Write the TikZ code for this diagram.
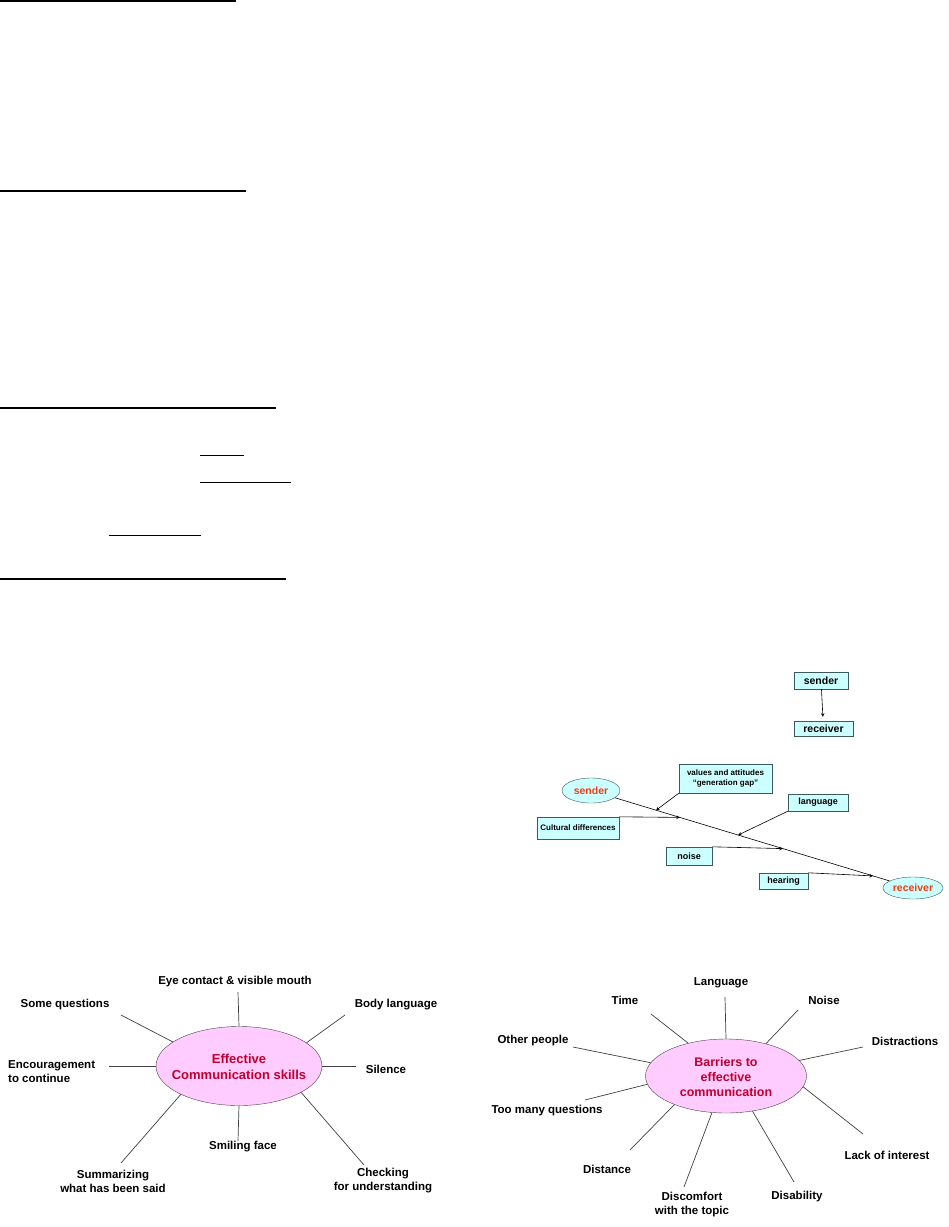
\documentclass[tikz,border=0pt]{standalone}
\usepackage{fontspec}
\setmainfont{Liberation Sans}
\usetikzlibrary{shapes.geometric}
\definecolor{boxcyan}{HTML}{CCFFFF}
\definecolor{boxline}{HTML}{3C5A5A}
\definecolor{hubpink}{HTML}{FFCCFF}
\definecolor{hubline}{HTML}{503C50}
\definecolor{hubred}{HTML}{C0002E}
\definecolor{sndred}{HTML}{F03C14}
\definecolor{spokegray}{HTML}{404040}
\tikzset{
  cbox/.style={draw=boxline, fill=boxcyan, inner sep=0pt, align=center,
    font=\bfseries\fontsize{9}{10}\selectfont},
  bigtxt/.style={font=\bfseries\fontsize{10.5}{12}\selectfont},
  smalltxt/.style={font=\bfseries\fontsize{8}{9.5}\selectfont},
  cell/.style={ellipse, draw=boxline, fill=boxcyan, inner sep=0pt, text=sndred,
    font=\bfseries\fontsize{10.5}{12}\selectfont},
  hub/.style={ellipse, draw=hubline, fill=hubpink, inner sep=0pt},
  hubtext/.style={text=hubred, align=center, inner sep=0pt,
    font=\bfseries\fontsize{12.5}{15}\selectfont},
  lbl/.style={align=center, inner sep=0pt, font=\bfseries\fontsize{11.5}{14}\selectfont},
  spoke/.style={draw=spokegray, line width=0.7pt},
  link/.style={line width=0.6pt},
  rulethick/.style={line width=2pt},
  rulethin/.style={line width=1pt}
}
\begin{document}
\begin{tikzpicture}[x=1pt,y=-1pt]
\useasboundingbox (0,0) rectangle (949,1227);

% heading underlines
\draw[rulethick] (0,1) -- (236,1);
\draw[rulethick] (0,191) -- (246,191);
\draw[rulethick] (0,408) -- (276,408);
\draw[rulethin] (200,455) -- (244,455);
\draw[rulethin] (200,482) -- (291,482);
\draw[rulethin] (109,535) -- (201,535);
\draw[rulethick] (0,579) -- (286,579);

% one-way model
\node[cbox, bigtxt, minimum width=54pt, minimum height=17pt] (topsnd) at (821,680.5) {sender};
\node[cbox, bigtxt, minimum width=59pt, minimum height=15pt] (toprcv) at (823.5,728.5) {receiver};
\draw[link, -stealth, shorten >=4pt] (topsnd) -- (toprcv);

% barriers on the way
\node[cell, minimum width=58pt, minimum height=25pt] (snd) at (591,790.5) {sender};
\node[cell, minimum width=60pt, minimum height=22pt] (rcv) at (913,888) {receiver};
\node[cbox, smalltxt, minimum width=93pt, minimum height=29pt] (vals) at (725.5,778.5) {values and attitudes\\“generation gap”};
\node[cbox, smalltxt, minimum width=82pt, minimum height=22pt] (cult) at (578,828) {Cultural differences};
\node[cbox, minimum width=60pt, minimum height=17pt] (lang) at (818,802.5) {language};
\node[cbox, minimum width=46pt, minimum height=18pt] (noise) at (689,856) {noise};
\node[cbox, minimum width=49pt, minimum height=16pt] (hear) at (783.5,881) {hearing};
\draw[link] (snd) -- (rcv);
\path (snd.center) -- (rcv.center)
  coordinate[pos=0.202] (p1) coordinate[pos=0.276] (p2)
  coordinate[pos=0.457] (p3) coordinate[pos=0.596] (p4)
  coordinate[pos=0.876] (p5);
\path[link, -stealth]
  (vals.south west) edge (p1)
  (cult.north east) edge (p2)
  (lang.south west) edge (p3)
  (noise.north east) edge (p4)
  (hear.north east) edge (p5);

% effective communication skills
\node[hub, minimum width=166pt, minimum height=79pt] (skills) at (239,1066) {};
\node[hubtext, font=\bfseries\fontsize{13}{16}\selectfont] (skillstxt) at (239,1067) {Effective\\Communication skills};
\node[lbl] (eye) at (235,982) {Eye contact \& visible mouth};
\node[lbl] (someq) at (65,1005) {Some questions};
\node[lbl] (body) at (396,1005) {Body language};
\node[lbl, anchor=west, align=left] (enc) at (8,1072) {Encouragement\\to continue};
\node[lbl] (sil) at (386,1069) {Silence};
\node[lbl] (smile) at (243,1147) {Smiling face};
\node[lbl] (summ) at (113,1181) {Summarizing\\what has been said};
\node[lbl] (check) at (383,1181) {Checking\\for understanding};
\coordinate (eyeEnd) at (238,992);
\coordinate (someqEnd) at (121,1015);
\coordinate (bodyEnd) at (345,1015);
\coordinate (encEnd) at (109,1066);
\coordinate (silEnd) at (356,1066);
\coordinate (smileEnd) at (238,1141);
\coordinate (summEnd) at (121,1163);
\coordinate (checkEnd) at (364,1165);
\path[spoke]
  (skills.90) edge (eyeEnd)
  (skills.160.3) edge (someqEnd)
  (skills.19.4) edge (bodyEnd)
  (skills.180) edge (encEnd)
  (skills.0) edge (silEnd)
  (skills.270) edge (smileEnd)
  (skills.206.2) edge (summEnd)
  (skills.337.9) edge (checkEnd);

% barriers to effective communication
\node[hub, minimum width=161pt, minimum height=74pt] (barr) at (726,1076) {};
\node[hubtext] (barrtxt) at (726,1077) {Barriers to\\effective\\communication};
\node[lbl] (language) at (721,983) {Language};
\node[lbl] (time) at (625,1000) {Time};
\node[lbl] (noisy) at (824,1000) {Noise};
\node[lbl] (other) at (533,1041) {Other people};
\node[lbl] (distr) at (905,1041) {Distractions};
\node[lbl] (toomany) at (547,1111) {Too many questions};
\node[lbl] (lack) at (887,1155) {Lack of interest};
\node[lbl] (dist) at (607,1169) {Distance};
\node[lbl] (disc) at (692,1205) {Discomfort\\with the topic};
\node[lbl] (disab) at (797,1197) {Disability};
\coordinate (languageEnd) at (725,997);
\coordinate (timeEnd) at (651,1014);
\coordinate (noisyEnd) at (798,1010);
\coordinate (otherEnd) at (573,1047);
\coordinate (distrEnd) at (863,1047);
\coordinate (toomanyEnd) at (585,1100);
\coordinate (lackEnd) at (863,1134);
\coordinate (distEnd) at (630,1150);
\coordinate (discEnd) at (684,1187);
\coordinate (disabEnd) at (794,1182);
\path[spoke]
  (barr.90) edge (languageEnd)
  (barr.139.8) edge (timeEnd)
  (barr.39.5) edge (noisyEnd)
  (barr.170.4) edge (otherEnd)
  (barr.12.8) edge (distrEnd)
  (barr.186.4) edge (toomanyEnd)
  (barr.352.2) edge (lackEnd)
  (barr.209.6) edge (distEnd)
  (barr.249.3) edge (discEnd)
  (barr.307.1) edge (disabEnd);
\end{tikzpicture}
\end{document}
